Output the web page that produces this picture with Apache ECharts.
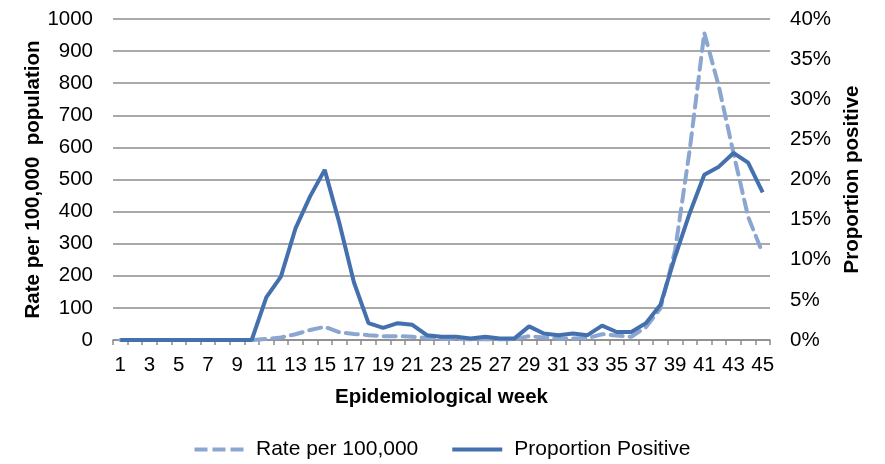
<!DOCTYPE html>
<html>
<head>
<meta charset="utf-8">
<title>Epidemiological week</title>
<script src="https://cdn.jsdelivr.net/npm/echarts@6/dist/echarts.min.js"></script>
<style>
  html, body { margin: 0; padding: 0; background: #fff; }
  #main { width: 885px; height: 464px; }
</style>
</head>
<body>
<div id="main"></div>
<script type="text/javascript">
    // weeks 1..45
    var weeks = [];
    for (var i = 1; i <= 45; i++) weeks.push(String(i));

    // rate per 100,000 population (left axis)
    var ratePer100k = [0, 0, 0, 0, 0, 0, 0, 0, 0, 0,
        3, 8, 18, 31, 41, 24, 19, 15, 12, 12,
        10, 6, 4, 3, 2, 3, 2, 3, 12, 8,
        4, 5, 6, 18, 14, 10, 40, 99, 280, 592,
        957, 789, 582, 384, 270];

    // proportion positive in % (right axis)
    var proportionPositive = [0, 0, 0, 0, 0, 0, 0, 0, 0, 0,
        5.3, 7.9, 13.9, 17.9, 21.2, 14.6, 7.2, 2.1, 1.5, 2.1,
        1.9, 0.6, 0.4, 0.4, 0.2, 0.4, 0.2, 0.2, 1.7, 0.8,
        0.6, 0.8, 0.6, 1.8, 1.0, 1.0, 2.1, 4.4, 10.4, 15.8,
        20.6, 21.6, 23.3, 22.1, 18.4];

    var font = 'Liberation Sans, Arial, sans-serif';
    var fs = 20.5;
    var myChart = echarts.init(document.getElementById('main'));

    // legend icons: three dashes / one solid bar
    var dashIcon = 'path://M0,0h13v4h-13z M18,0h13v4h-13z M36,0h13v4h-13z';
    var solidIcon = 'path://M0,0h50v4h-50z';

    myChart.setOption({
        animation: false,
        textStyle: { fontFamily: font, color: '#000' },
        grid: { left: 113, right: 115, top: 19, bottom: 124 },
        legend: {
            left: 'center',
            top: 434,
            itemWidth: 50,
            itemHeight: 4,
            itemGap: 34,
            textStyle: { fontFamily: font, fontSize: 21, color: '#000', padding: [0, 0, 0, 7] },
            data: [
                { name: 'Rate per 100,000', icon: dashIcon },
                { name: 'Proportion Positive', icon: solidIcon }
            ]
        },
        xAxis: {
            type: 'category',
            data: weeks,
            boundaryGap: true,
            name: 'Epidemiological week',
            nameLocation: 'middle',
            nameGap: 47,
            nameMoveOverlap: false,
            nameTextStyle: { fontFamily: font, fontSize: fs, fontWeight: 'bold', color: '#000' },
            axisLine: { show: true, onZero: false, lineStyle: { color: '#8c8c8c', width: 1.5 } },
            axisTick: { show: true, interval: 0, length: 5, lineStyle: { color: '#8c8c8c', width: 1.5 } },
            axisLabel: { interval: 1, margin: 15, fontSize: fs, color: '#000' }
        },
        yAxis: [{
            type: 'value',
            min: 0,
            max: 1000,
            interval: 100,
            name: 'Rate per 100,000  population',
            nameLocation: 'middle',
            nameGap: 69,
            nameMoveOverlap: false,
            nameTextStyle: { fontFamily: font, fontSize: fs, fontWeight: 'bold', color: '#000' },
            axisLine: { show: false },
            axisTick: { show: false },
            axisLabel: { margin: 20, fontSize: fs, color: '#000', formatter: function (v) { return String(v); } },
            splitLine: { lineStyle: { color: '#8c8c8c', width: 1.5 } }
        }, {
            type: 'value',
            min: 0,
            max: 40,
            interval: 5,
            position: 'right',
            name: 'Proportion positive',
            nameLocation: 'middle',
            nameRotate: 90,
            nameGap: 72,
            nameMoveOverlap: false,
            nameTextStyle: { fontFamily: font, fontSize: fs, fontWeight: 'bold', color: '#000' },
            axisLine: { show: false },
            axisTick: { show: false },
            axisLabel: { margin: 20, fontSize: fs, color: '#000', formatter: function (v) { return v + '%'; } },
            splitLine: { show: false }
        }],
        series: [{
            name: 'Rate per 100,000',
            type: 'line',
            yAxisIndex: 0,
            data: ratePer100k,
            symbol: 'none',
            lineStyle: { color: '#8ba6d0', width: 4, type: [12, 7], cap: 'round' },
            itemStyle: { color: '#8ba6d0' }
        }, {
            name: 'Proportion Positive',
            type: 'line',
            yAxisIndex: 1,
            data: proportionPositive,
            symbol: 'none',
            lineStyle: { color: '#4471ad', width: 4 },
            itemStyle: { color: '#4471ad' }
        }]
    });
</script>
</body>
</html>
